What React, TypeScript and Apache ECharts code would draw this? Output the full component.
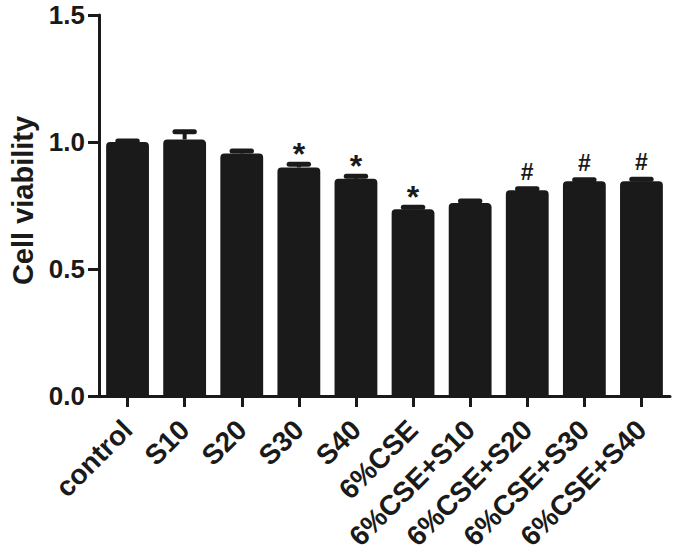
import React, { useEffect, useRef } from "react";
import * as echarts from "echarts";

const categories = [
  "control",
  "S10",
  "S20",
  "S30",
  "S40",
  "6%CSE",
  "6%CSE+S10",
  "6%CSE+S20",
  "6%CSE+S30",
  "6%CSE+S40",
];
const viability = [1.0, 1.01, 0.955, 0.9, 0.855, 0.735, 0.76, 0.81, 0.845, 0.845];
const sem = [0.004, 0.03, 0.01, 0.012, 0.01, 0.008, 0.008, 0.006, 0.006, 0.008];
const marks = ["", "", "", "*", "*", "*", "", "#", "#", "#"];
const yTicks = [0, 0.5, 1.0, 1.5];

const INK = "#1a1a1a";
const FONT = "'Liberation Sans', Arial, Helvetica, sans-serif";

export default function App() {
  const ref = useRef<HTMLDivElement>(null);
  useEffect(() => {
    document.body.style.margin = "0";
    if (!ref.current) return;
    const chart = echarts.init(ref.current, undefined, { renderer: "svg" });
    const errData = categories.map((_, i) => [i, viability[i], sem[i]]);
    chart.setOption({
      animation: false,
      backgroundColor: "#ffffff",
      textStyle: { fontFamily: FONT },
      grid: { left: 98, right: 5, top: 15, bottom: 158, containLabel: false },
      xAxis: {
        type: "category",
        data: categories,
        axisLine: { lineStyle: { color: INK, width: 3 } },
        axisTick: {
          show: true,
          alignWithLabel: true,
          length: 11,
          lineStyle: { color: INK, width: 3 },
        },
        axisLabel: {
          interval: 0,
          rotate: 45,
          margin: 29,
          color: INK,
          fontSize: 28,
          fontWeight: "bold",
          fontFamily: FONT,
        },
      },
      yAxis: {
        type: "value",
        min: yTicks[0],
        max: yTicks[yTicks.length - 1],
        interval: 0.5,
        name: "Cell viability",
        nameLocation: "middle",
        nameGap: 62,
        nameTextStyle: {
          color: INK,
          fontSize: 29,
          fontWeight: "bold",
          fontFamily: FONT,
          padding: [0, 0, 0, 10],
        },
        splitLine: { show: false },
        axisLine: { show: true, lineStyle: { color: INK, width: 3 } },
        axisTick: { show: true, length: 11, lineStyle: { color: INK, width: 3 } },
        axisLabel: {
          margin: 14,
          color: INK,
          fontSize: 26,
          fontWeight: "bold",
          fontFamily: FONT,
          formatter: (v: number) => v.toFixed(1),
        },
      },
      series: [
        {
          type: "bar",
          data: viability,
          barWidth: "75%",
          itemStyle: {
            color: INK,
            borderColor: INK,
            borderWidth: 2,
            borderRadius: [3, 3, 0, 0],
          },
          z: 2,
        },
        {
          type: "custom",
          data: errData,
          z: 3,
          renderItem: (params: any, api: any) => {
            const idx = api.value(0);
            const mean = api.value(1);
            const err = api.value(2);
            const base = api.coord([idx, mean]);
            const top = api.coord([idx, mean + err]);
            const bw = api.size([1, 0])[0];
            const capHalf = bw * 0.17;
            const mark = marks[idx];
            const children: any[] = [
              {
                type: "line",
                shape: { x1: base[0], y1: base[1], x2: top[0], y2: top[1] },
                style: { stroke: INK, lineWidth: 4 },
              },
              {
                type: "line",
                shape: { x1: top[0] - capHalf, y1: top[1], x2: top[0] + capHalf, y2: top[1] },
                style: { stroke: INK, lineWidth: 5, lineCap: "round" },
              },
            ];
            if (mark) {
              const isStar = mark === "*";
              children.push({
                type: "text",
                x: top[0],
                y: top[1] + (isStar ? -10 : -17),
                style: {
                  text: mark,
                  fill: INK,
                  fontSize: isStar ? 32 : 23,
                  fontWeight: "bold",
                  fontFamily: FONT,
                  textAlign: "center",
                  textVerticalAlign: "middle",
                },
              });
            }
            return { type: "group", children };
          },
        },
      ],
    });
    return () => chart.dispose();
  }, []);
  return <div ref={ref} style={{ width: 675, height: 554 }} />;
}
